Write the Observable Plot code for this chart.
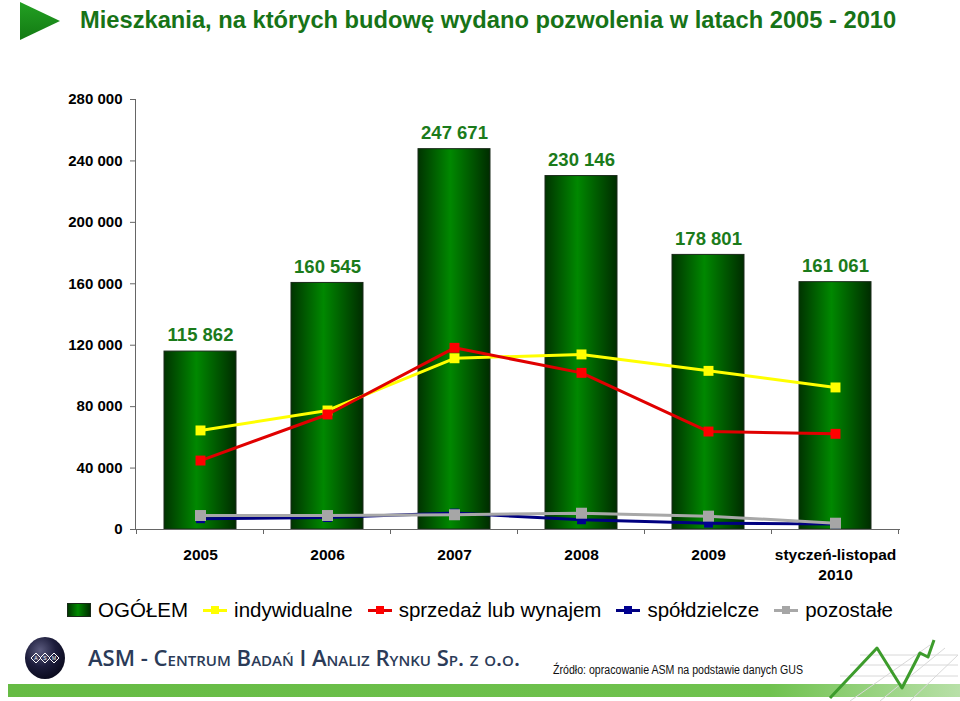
<!DOCTYPE html>
<html>
<head>
<meta charset="utf-8">
<script src="https://cdn.jsdelivr.net/npm/d3@7"></script>
<script src="https://cdn.jsdelivr.net/npm/@observablehq/plot@0.6"></script>
<style>
  body { margin: 0; background: #fff; font-family: "Liberation Sans", Arial, sans-serif; }
  #page { position: relative; width: 960px; height: 701px; overflow: hidden; background: #fff; }
  #header { position: relative; height: 46px; }
  #tri { position: absolute; left: 20px; top: 2px; width: 40px; height: 38px;
         background: linear-gradient(180deg, #23a023, #137a13);
         clip-path: polygon(0 0, 100% 50%, 0 100%); }
  #title { position: absolute; left: 80px; top: 7px; font-size: 23.7px; font-weight: bold;
           color: #177317; white-space: nowrap; }
  #chart { height: 544px; }
  #chart [aria-label^="y-axis"] text { fill: #000; }
  #legend { height: 40px; display: flex; align-items: center; justify-content: center;
            gap: 15px; font-size: 20.5px; color: #000; }
  .item { display: flex; align-items: center; gap: 7px; }
  .sw { width: 24px; height: 14px; position: relative; }
  .sw.box { width: 22px; height: 12px; border: 1px solid #1a2a1a;
            background: linear-gradient(90deg, #003800, #008a00 45%, #002e00); }
  .sw.ln::before { content: ""; position: absolute; left: 0; right: 0; top: 6px; height: 3px; background: var(--c); }
  .sw.ln::after { content: ""; position: absolute; left: 8px; top: 3px; width: 8px; height: 8px; background: var(--m); }
  #footer { position: absolute; left: 0; top: 630px; }
</style>
</head>
<body>
<div id="page">
  <div id="header"><div id="tri"></div><div id="title">Mieszkania, na których budowę wydano pozwolenia w latach 2005 - 2010</div></div>
  <div id="chart"></div>
  <div id="legend"></div>
  <svg id="footer" width="960" height="71" viewBox="0 0 960 71">
    <defs>
      <radialGradient id="ball" cx="0.38" cy="0.32" r="0.7">
        <stop offset="0" stop-color="#5b5b7e"/>
        <stop offset="0.55" stop-color="#1d1d3c"/>
        <stop offset="1" stop-color="#0b0b1e"/>
      </radialGradient>
      <linearGradient id="band" x1="0" x2="1">
        <stop offset="0" stop-color="#66bb44"/>
        <stop offset="0.8" stop-color="#70c24f"/>
        <stop offset="1" stop-color="#b8e0a8"/>
      </linearGradient>
    </defs>
    <ellipse cx="45" cy="28" rx="20" ry="21" fill="url(#ball)"/>
    <g fill="none" stroke="#fff" stroke-width="1">
      <path d="M31,28 l5,-5 l5,5 l-5,5 z"/>
      <path d="M40,28 l5,-5 l5,5 l-5,5 z"/>
      <path d="M49,28 l5,-5 l5,5 l-5,5 z"/>
    </g>
    <g font-family="Liberation Sans, Arial, sans-serif" font-size="5" fill="#fff" text-anchor="middle">
      <text x="36" y="30">A</text><text x="45" y="30">S</text><text x="54" y="30">M</text>
    </g>
    <text x="88" y="36" font-family="Open Sans, Lato, sans-serif" font-size="22" font-weight="600"
          fill="#2b3b58" style="font-variant: small-caps" textLength="432" lengthAdjust="spacingAndGlyphs">ASM - Centrum Badań I Analiz Rynku Sp. z o.o.</text>
    <text x="553" y="44" font-family="Liberation Sans, Arial, sans-serif" font-size="12" fill="#111"
          textLength="250" lengthAdjust="spacingAndGlyphs">Źródło: opracowanie ASM na podstawie danych GUS</text>
    <rect x="8" y="54" width="952" height="13" fill="url(#band)"/>
    <g stroke="#d8d8d8" stroke-width="1" fill="none">
      <line x1="850" y1="71" x2="930" y2="15"/>
      <line x1="880" y1="71" x2="945" y2="18"/>
      <line x1="910" y1="71" x2="958" y2="25"/>
      <line x1="860" y1="25" x2="958" y2="25"/>
      <line x1="850" y1="35" x2="958" y2="35"/>
      <line x1="840" y1="46" x2="958" y2="46"/>
    </g>
    <polyline points="830,68 877,18 902,58 920,23 928,27 934,10" fill="none" stroke="#3d9c2c" stroke-width="3" stroke-linejoin="round"/>
  </svg>
</div>
<script>
// ---- data ----
const categories = ["2005", "2006", "2007", "2008", "2009", "styczeń-listopad 2010"];
const xLabels = ["2005", "2006", "2007", "2008", "2009", "styczeń-listopad\n2010"];
const ogolem = [115862, 160545, 247671, 230146, 178801, 161061];
const indywidualne = [64500, 77500, 111500, 114000, 103300, 92500];
const sprzedaz = [44900, 74900, 118300, 102000, 63800, 62300];
const spoldzielcze = [7000, 7800, 10700, 6300, 4100, 3500];
const pozostale = [9100, 9100, 9600, 10600, 8700, 4100];
const yTicks = [0, 40000, 80000, 120000, 160000, 200000, 240000, 280000];

const seriesNames = ["OGÓŁEM", "indywidualne", "sprzedaż lub wynajem", "spółdzielcze", "pozostałe"];
const seriesColors = ["#007a00", "#ffff00", "#e00000", "#000080", "#a8a8a8"];
const markerColors = ["#007a00", "#ffff00", "#ff0000", "#000090", "#a6a6a6"];

// ---- table built from arrays ----
const rows = categories.map((c, i) => ({
  cat: c, label: xLabels[i], ogolem: ogolem[i],
  ind: indywidualne[i], spr: sprzedaz[i], spo: spoldzielcze[i], poz: pozostale[i]
}));

const fmt = v => d3.format(",")(v).replace(/,/g, " ");

const defs = () => {
  const ns = "http://www.w3.org/2000/svg";
  const d = document.createElementNS(ns, "defs");
  d.innerHTML = '<linearGradient id="barGrad" x1="0" x2="1" y1="0" y2="0">' +
    '<stop offset="0" stop-color="#003400"/>' +
    '<stop offset="0.45" stop-color="#008800"/>' +
    '<stop offset="1" stop-color="#002c00"/></linearGradient>';
  return d;
};

// category separator ticks on x axis, positioned from the band scale
const catTicks = (index, scales) => {
  if (!scales || !scales.x || !scales.x.bandwidth || !scales.y) return null;
  const ns = "http://www.w3.org/2000/svg";
  const g = document.createElementNS(ns, "g");
  const x = scales.x, y = scales.y;
  const step = x.step ? x.step() : 0;
  const c0 = x(categories[0]) + x.bandwidth() / 2;
  const y0 = y(0);
  for (let k = 0; k <= categories.length; k++) {
    const px = c0 - step / 2 + k * step;
    const l = document.createElementNS(ns, "line");
    l.setAttribute("x1", px); l.setAttribute("x2", px);
    l.setAttribute("y1", y0); l.setAttribute("y2", y0 + 5);
    l.setAttribute("stroke", "#666");
    g.appendChild(l);
  }
  return g;
};

const lineSeries = [
  {key: "ind", i: 1, r: 5.6},
  {key: "spr", i: 2, r: 5.6},
  {key: "spo", i: 3, r: 5},
  {key: "poz", i: 4, r: 6.2}
];

const marks = [
  defs,
  Plot.barY(rows, {x: "cat", y: "ogolem", fill: "url(#barGrad)", stroke: "#1a2a1a", strokeWidth: 1}),
  Plot.text(rows, {x: "cat", y: "ogolem", text: d => fmt(d.ogolem), dy: -16,
                   fill: "#1b7b1b", fontSize: 18.5, fontWeight: "bold"}),
  Plot.ruleY([0], {stroke: "#666"}),
  catTicks,
  Plot.text(rows, {x: "cat", y: () => 0, text: "label", dy: 16.5, lineAnchor: "top",
                   lineHeight: 1.29, fontSize: 15.5, fontWeight: "bold", fill: "#000"})
];
for (const s of lineSeries) {
  marks.push(Plot.line(rows, {x: "cat", y: s.key, stroke: seriesColors[s.i], strokeWidth: 3}));
  marks.push(Plot.dot(rows, {x: "cat", y: s.key, symbol: "square", r: s.r, fill: markerColors[s.i], stroke: "none"}));
}

const chart = Plot.plot({
  width: 960,
  height: 544,
  marginTop: 53,
  marginBottom: 61,
  marginLeft: 135,
  marginRight: 60,
  style: {fontFamily: "Liberation Sans, Arial, sans-serif", fontSize: "15px", fontWeight: "bold",
          color: "#666", background: "transparent", overflow: "visible"},
  x: {domain: categories, paddingInner: 0.435, paddingOuter: 0.2175, axis: null},
  y: {domain: [0, 280000], ticks: yTicks, tickFormat: fmt, tickSize: 5, tickPadding: 8,
      line: true, label: null},
  marks
});
document.getElementById("chart").appendChild(chart);

// ---- legend ----
const legend = document.getElementById("legend");
seriesNames.forEach((name, i) => {
  const item = document.createElement("div");
  item.className = "item";
  const sw = document.createElement("div");
  sw.className = i === 0 ? "sw box" : "sw ln";
  sw.style.setProperty("--c", seriesColors[i]);
  sw.style.setProperty("--m", markerColors[i]);
  const t = document.createElement("span");
  t.textContent = name;
  item.appendChild(sw); item.appendChild(t);
  legend.appendChild(item);
});
</script>
</body>
</html>
